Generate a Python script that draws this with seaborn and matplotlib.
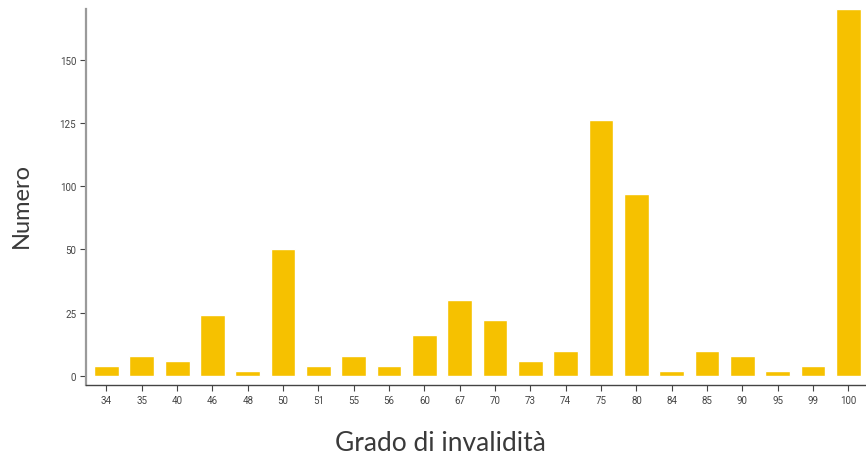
import numpy as np
import pandas as pd
import matplotlib
matplotlib.use('Agg')
import matplotlib.pyplot as plt
import seaborn as sns

# degree of disability and number of people
grado = ['34', '35', '40', '46', '48', '50', '51', '55', '56', '60', '67',
         '70', '73', '74', '75', '80', '84', '85', '90', '95', '99', '100']
numero = [4, 8, 6, 24, 2, 50, 4, 8, 4, 16, 30,
          22, 6, 10, 126, 94, 2, 10, 8, 2, 4, 170]

# y tick labels as printed on the chart (evenly spaced, 75 missing)
ytick_vals = [0, 25, 50, 100, 125, 150]

df = pd.DataFrame({'grado': grado, 'numero': numero})

sns.set_style('ticks')
plt.rcParams['font.family'] = ['Roboto', 'DejaVu Sans']

fig = plt.figure(figsize=(8.66, 4.56), dpi=100)
ax = fig.add_axes([86 / 866, 70 / 456, 780 / 866, 376 / 456])

sns.barplot(data=df, x='grado', y='numero', order=grado, color='#F6C100',
            saturation=1, width=0.7, ax=ax)


# the axis squeezes 50-100 into one step
def fwd(v):
    v = np.asarray(v, dtype=float)
    return np.where(v <= 50, v, np.where(v <= 100, 50 + (v - 50) / 2, v - 25))


def inv(d):
    d = np.asarray(d, dtype=float)
    return np.where(d <= 50, d, np.where(d <= 75, 50 + (d - 50) * 2, d + 25))


ax.set_yscale('function', functions=(fwd, inv))
ax.set_ylim(-3.6, 170)
ax.set_xlim(-0.58, len(grado) - 0.5)
ax.set_yticks(ytick_vals)
ax.set_yticklabels([str(v) for v in ytick_vals])
ax.yaxis.set_minor_locator(matplotlib.ticker.NullLocator())

sns.despine(ax=ax)
ax.spines['left'].set_color('#9a9a9a')
ax.spines['left'].set_linewidth(1.6)
ax.spines['bottom'].set_color('#444444')
ax.spines['bottom'].set_linewidth(1.0)

ax.tick_params(axis='both', labelsize=7, colors='#444444', length=4, width=0.8, pad=3)

lab_font = dict(color='#3a3a3a', family=['Lato', 'DejaVu Sans'])
ax.set_xlabel('Grado di invalidità', fontsize=19, **lab_font)
ax.set_ylabel('Numero', fontsize=17, **lab_font)
ax.xaxis.set_label_coords(0.454, -0.12)
ax.yaxis.set_label_coords(-0.07, 0.479)

fig.savefig('out.png', dpi=100)
